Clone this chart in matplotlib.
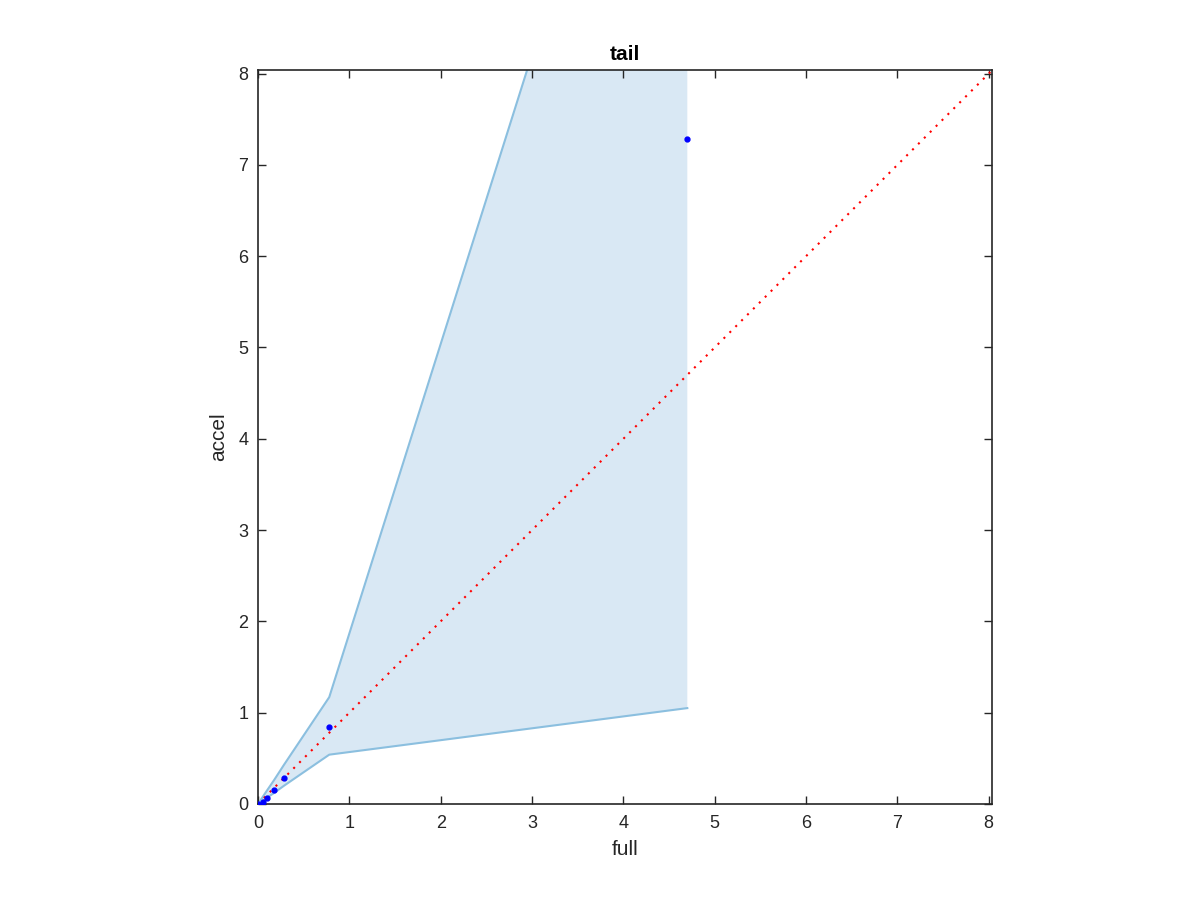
import matplotlib
matplotlib.use('Agg')
import matplotlib.pyplot as plt
import numpy as np

plt.rcParams['font.family'] = ['Liberation Sans', 'DejaVu Sans']

# data
full = [0.0, 0.06, 0.10, 0.175, 0.285, 0.78, 4.70]
accel = [0.0, 0.025, 0.065, 0.15, 0.28, 0.84, 7.28]
upper = [0.0, 0.09, 0.15, 0.26, 0.43, 1.17, 13.6]
lower = [0.0, 0.04, 0.07, 0.12, 0.20, 0.54, 1.05]
lim = 8.04

fig = plt.figure(figsize=(12, 9), dpi=100)
ax = fig.add_axes([0.215, 0.1067, 0.612, 0.8156])

ax.fill_between(full, lower, upper, facecolor='#d9e8f4', edgecolor='none', zorder=1)
ax.plot(full, upper, color='#8bbfdf', lw=1.5, zorder=2)
ax.plot(full, lower, color='#8bbfdf', lw=1.5, zorder=2)
ax.plot([0, lim], [0, lim], color='red', ls=(0, (1, 3)), lw=1.5, zorder=3)
ax.plot(full, accel, 'o', color='blue', ms=3.5, zorder=4)

ax.set_xlim(0, lim)
ax.set_ylim(0, lim)
ax.set_xticks(range(0, 9))
ax.set_yticks(range(0, 9))
ax.tick_params(direction='in', top=True, right=True, length=6, width=1,
               labelsize=13, colors='#262626')
ax.tick_params(axis='x', pad=8)
ax.tick_params(axis='y', pad=7)
for s in ax.spines.values():
    s.set_color('#262626')
    s.set_linewidth(1.2)
ax.set_xlabel('full', fontsize=15, color='#262626', labelpad=6)
ax.set_ylabel('accel', fontsize=15, color='#262626', labelpad=7)
ax.set_title('tail', fontsize=15, fontweight='bold', pad=7)

fig.savefig('out.png', dpi=100)
